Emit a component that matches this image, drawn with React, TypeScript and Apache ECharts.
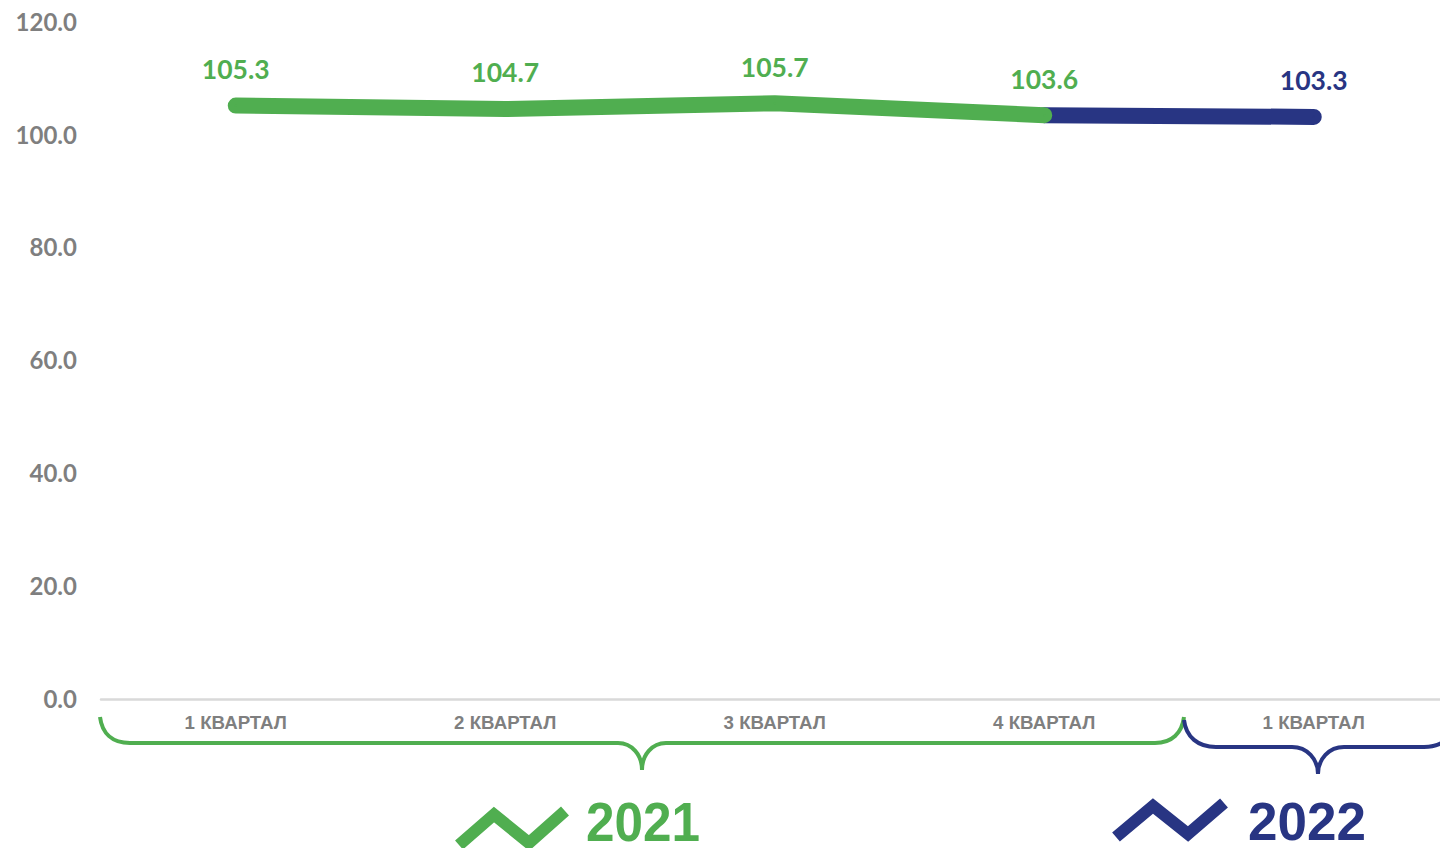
import React, { useEffect, useRef } from "react";
import * as echarts from "echarts";

const categories = ["1 КВАРТАЛ", "2 КВАРТАЛ", "3 КВАРТАЛ", "4 КВАРТАЛ", "1 КВАРТАЛ"];
const values2021 = [105.3, 104.7, 105.7, 103.6, null];
const values2022 = [null, null, null, 103.6, 103.3];
const yTicks = { min: 0, max: 120, interval: 20 };
const GREEN = "#50AE50";
const BLUE = "#283583";
const GREY = "#7F7F7F";

echarts.graphic.registerShape(
  "brace2021",
  echarts.graphic.extendPath(
    "M100 717 C102 733 112 743 130 743 L618 743 C632 743 642 755 642 770 C642 755 652 743 666 743 L1155 743 C1172 743 1182 733 1184 717",
    {}
  )
);
echarts.graphic.registerShape(
  "brace2022",
  echarts.graphic.extendPath(
    "M1184 720 C1186 737 1198 747 1216 747 L1292 747 C1307 747 1318 759 1318 774 C1318 759 1329 747 1344 747 L1424 747 C1434 747 1440 745 1446 740",
    {}
  )
);

export default function App() {
  const ref = useRef<HTMLDivElement>(null);
  useEffect(() => {
    document.body.style.margin = "0";
    const chart = echarts.init(ref.current!, null, { renderer: "svg" });
    const labelStyle = (color: string) => ({
      show: true,
      position: "top" as const,
      distance: 22,
      color,
      fontFamily: "Lato",
      fontWeight: "bold" as const,
      fontSize: 26.5,
      formatter: (p: any) => Number(p.value).toFixed(1),
    });
    chart.setOption({
      animation: false,
      backgroundColor: "#ffffff",
      grid: {
        left: 101,
        top: 22.7,
        width: 1347.5,
        height: 676.8,
        containLabel: false,
        outerBoundsMode: "none",
      },
      xAxis: {
        type: "category",
        data: categories,
        boundaryGap: true,
        axisTick: { show: false },
        axisLine: { show: true, lineStyle: { color: "#D9D9D9", width: 2.5 } },
        axisLabel: {
          interval: 0,
          margin: 13,
          color: GREY,
          fontFamily: "Liberation Sans",
          fontWeight: "bold",
          fontSize: 18.7,
        },
      },
      yAxis: {
        type: "value",
        ...yTicks,
        splitLine: { show: false },
        axisLine: { show: false },
        axisTick: { show: false },
        axisLabel: {
          margin: 24,
          color: GREY,
          fontFamily: "Lato",
          fontWeight: "bold",
          fontSize: 24,
          verticalAlign: "bottom",
          lineHeight: 3,
          formatter: (v: number) => v.toFixed(1),
        },
      },
      series: [
        {
          type: "line",
          name: "2022",
          z: 2,
          data: values2022.map((v, i) => (i === 3 ? { value: v, label: { show: false } } : v)),
          symbol: "circle",
          symbolSize: 2,
          showSymbol: true,
          itemStyle: { color: BLUE },
          lineStyle: { color: BLUE, width: 16, cap: "round" },
          label: labelStyle(BLUE),
        },
        {
          type: "line",
          name: "2021",
          z: 3,
          data: values2021,
          symbol: "circle",
          symbolSize: 2,
          showSymbol: true,
          itemStyle: { color: GREEN },
          lineStyle: { color: GREEN, width: 16, cap: "round", join: "round" },
          label: labelStyle(GREEN),
        },
      ],
      graphic: [
        { type: "brace2021", style: { fill: "none", stroke: GREEN, lineWidth: 4 } },
        { type: "brace2022", style: { fill: "none", stroke: BLUE, lineWidth: 4 } },
        {
          type: "polyline",
          shape: { points: [[459, 845], [494, 814.5], [529, 843], [565, 811]] },
          style: { fill: "none", stroke: GREEN, lineWidth: 12, lineJoin: "miter" },
        },
        {
          type: "polyline",
          shape: { points: [[1116, 837], [1153, 806], [1188, 834], [1224, 803]] },
          style: { fill: "none", stroke: BLUE, lineWidth: 12, lineJoin: "miter" },
        },
        {
          type: "text",
          x: 586,
          y: 821,
          scaleX: 0.915,
          style: {
            text: "2021",
            fill: GREEN,
            font: 'bold 56px "Liberation Sans"',
            lineHeight: 50,
            verticalAlign: "middle",
          },
        },
        {
          type: "text",
          x: 1248,
          y: 821,
          style: {
            text: "2022",
            fill: BLUE,
            font: 'bold 53px "Liberation Sans"',
            lineHeight: 50,
            verticalAlign: "middle",
          },
        },
      ],
    });
    return () => chart.dispose();
  }, []);
  return <div ref={ref} style={{ width: 1440, height: 848 }} />;
}
